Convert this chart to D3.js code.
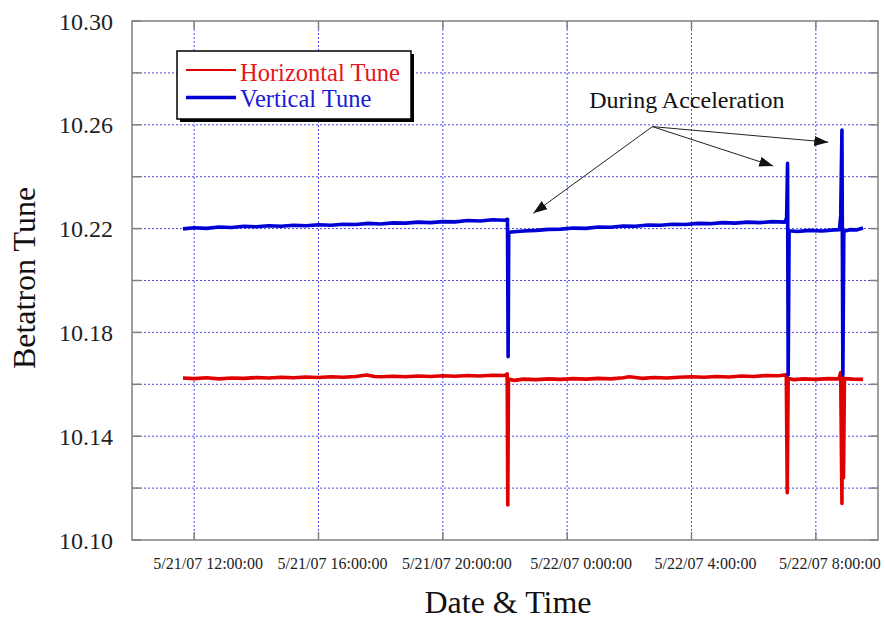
<!DOCTYPE html>
<html lang="en">
<head>
<meta charset="UTF-8">
<title>Betatron Tune</title>
<style>
    body { margin: 0; background: #fff; }
    svg text { font-family: 'Liberation Serif', 'Times New Roman', Times, serif; }
    .grid line { stroke: #4a4aee; stroke-width: 1; stroke-dasharray: 2,2; }
    .tick-mark { stroke: #808080; stroke-width: 1.5; }
</style>
</head>
<body>
<svg id="chart" width="885" height="621"></svg>
<script src="https://d3js.org/d3.v7.min.js"></script>
<script>
// hours counted from 5/21/07 0:00:00
const xDomainHours = [10, 34];
const yDomain = [10.10, 10.30];
const yGridValues = [10.10, 10.12, 10.14, 10.16, 10.18, 10.20, 10.22, 10.24, 10.26, 10.28, 10.30];
const yTickLabels = ["10.10", "10.14", "10.18", "10.22", "10.26", "10.30"];
const xTickHours = [12, 16, 20, 24, 28, 32];

// Horizontal tune
const hTimes = [11.64, 12.0, 12.4, 12.8, 13.2, 13.6, 14.0, 14.4, 14.8, 15.2, 15.6, 16.0, 16.4, 16.8, 17.2,
    17.55, 17.8, 18.0, 18.4, 18.8, 19.2, 19.6, 20.0, 20.4, 20.8, 21.2, 21.6, 22.0, 22.07,
    22.09, 22.11, 22.3, 22.6, 23.0, 23.4, 23.8, 24.2, 24.6, 25.0, 25.4, 25.8, 26.0, 26.4,
    26.8, 27.2, 27.6, 28.0, 28.4, 28.8, 29.2, 29.6, 30.0, 30.4, 30.8, 31.05,
    31.08, 31.11, 31.3, 31.6, 32.0, 32.4, 32.74, 32.8, 32.84, 32.86, 32.89, 32.92, 33.2, 33.52];
const hValues = [10.1624, 10.1622, 10.1625, 10.1621, 10.1624, 10.1623, 10.1626, 10.1624, 10.1627, 10.1625, 10.1628, 10.1626, 10.1629, 10.1627, 10.1630,
    10.1636, 10.1630, 10.1629, 10.1631, 10.1629, 10.1632, 10.1630, 10.1633, 10.1631, 10.1634, 10.1632, 10.1635, 10.1634, 10.1640,
    10.1135, 10.1620, 10.1615, 10.1620, 10.1618, 10.1621, 10.1619, 10.1622, 10.1620, 10.1623, 10.1621, 10.1625, 10.1629, 10.1623,
    10.1626, 10.1624, 10.1627, 10.1629, 10.1627, 10.1630, 10.1628, 10.1632, 10.1630, 10.1634, 10.1633, 10.1637,
    10.1182, 10.1622, 10.1618, 10.1621, 10.1619, 10.1622, 10.1621, 10.1645, 10.1141, 10.1630, 10.1240, 10.1622, 10.1620, 10.1619];

// Vertical tune
const vTimes = [11.64, 12.0, 12.4, 12.8, 13.2, 13.6, 14.0, 14.4, 14.8, 15.2, 15.6, 16.0, 16.4, 16.8, 17.2,
    17.6, 18.0, 18.4, 18.8, 19.2, 19.6, 20.0, 20.4, 20.8, 21.2, 21.6, 22.0, 22.08,
    22.10, 22.12, 22.2, 22.6, 23.0, 23.4, 23.8, 24.2, 24.6, 25.0, 25.4, 25.8, 26.2, 26.6,
    27.0, 27.4, 27.8, 28.2, 28.6, 29.0, 29.4, 29.8, 30.2, 30.6, 31.0, 31.06,
    31.09, 31.11, 31.14, 31.4, 31.8, 32.2, 32.6, 32.76, 32.8, 32.84, 32.87, 32.9, 33.1, 33.3, 33.52];
const vValues = [10.2199, 10.2203, 10.2201, 10.2206, 10.2204, 10.2209, 10.2207, 10.2211, 10.2209, 10.2213, 10.2211, 10.2215, 10.2213, 10.2217, 10.2216,
    10.2220, 10.2218, 10.2222, 10.2221, 10.2225, 10.2223, 10.2227, 10.2226, 10.2231, 10.2229, 10.2234, 10.2232, 10.2236,
    10.1706, 10.2184, 10.2187, 10.2191, 10.2193, 10.2197, 10.2198, 10.2202, 10.2201, 10.2206, 10.2205, 10.2210, 10.2209, 10.2214,
    10.2213, 10.2217, 10.2216, 10.2220, 10.2219, 10.2223, 10.2221, 10.2225, 10.2223, 10.2227, 10.2225, 10.2240,
    10.2452, 10.1636, 10.2192, 10.2189, 10.2193, 10.2191, 10.2195, 10.2196, 10.2250, 10.2580, 10.1636, 10.2190, 10.2196, 10.2195, 10.2202];

// annotation
const noteText = "During Acceleration";
const notePos = [27.85, 10.2665];
const arrowFrom = [26.74, 10.2593];
const arrowTips = [[22.91, 10.2259], [30.63, 10.2441], [32.40, 10.2533]];

const seriesNames = ["Horizontal Tune", "Vertical Tune"];
const seriesColors = ["#e00000", "#0000d4"];
const legendTextColors = ["#e8141a", "#1a1ad8"];

const width = 885, height = 621;
const margin = { top: 21, right: 7, bottom: 81, left: 132 };
const w = width - margin.left - margin.right;
const h = height - margin.top - margin.bottom;

const START = new Date(2007, 4, 21, 0, 0, 0);
const at = hr => new Date(+START + hr * 3600e3);

const x = d3.scaleTime().domain(xDomainHours.map(at)).range([0, w]);
const y = d3.scaleLinear().domain(yDomain).range([h, 0]);

const svg = d3.select("#chart");
const g = svg.append("g").attr("transform", `translate(${margin.left},${margin.top})`);

// grid
const grid = g.append("g").attr("class", "grid");
grid.selectAll(".hg").data(yGridValues.slice(1, -1)).enter().append("line")
    .attr("x1", 0).attr("x2", w)
    .attr("y1", d => y(d)).attr("y2", d => y(d));
grid.selectAll(".vg").data(xTickHours).enter().append("line")
    .attr("x1", d => x(at(d))).attr("x2", d => x(at(d)))
    .attr("y1", 0).attr("y2", h);

// inward tick marks on all four sides
const ticks = g.append("g");
yGridValues.forEach(v => {
    ticks.append("line").attr("class", "tick-mark").attr("x1", 0).attr("x2", 9).attr("y1", y(v)).attr("y2", y(v));
    ticks.append("line").attr("class", "tick-mark").attr("x1", w - 8).attr("x2", w).attr("y1", y(v)).attr("y2", y(v));
});
xTickHours.forEach(hr => {
    const xp = x(at(hr));
    ticks.append("line").attr("class", "tick-mark").attr("x1", xp).attr("x2", xp).attr("y1", 0).attr("y2", 8);
    ticks.append("line").attr("class", "tick-mark").attr("x1", xp).attr("x2", xp).attr("y1", h - 8).attr("y2", h);
});

// frame
g.append("rect").attr("width", w).attr("height", h)
    .attr("fill", "none").attr("stroke", "#808080").attr("stroke-width", 1.5);

// y labels
g.selectAll(".ylab").data(yTickLabels).enter().append("text")
    .attr("x", -19).attr("y", d => y(+d)).attr("dy", "0.36em")
    .attr("text-anchor", "end").attr("font-size", 24).attr("fill", "#222")
    .text(d => d);

// x labels
const fmt = d3.timeFormat("%-m/%-d/%y %-H:%M:%S");
g.selectAll(".xlab").data(xTickHours).enter().append("text")
    .attr("x", d => x(at(d)) + 14).attr("y", h + 29)
    .attr("text-anchor", "middle").attr("font-size", 16).attr("fill", "#222")
    .text(d => fmt(at(d)));

// axis titles
svg.append("text").attr("transform", "translate(35,278) rotate(-90)")
    .attr("text-anchor", "middle").attr("font-size", 32).attr("fill", "#111")
    .text("Betatron Tune");
svg.append("text").attr("x", 508).attr("y", 613)
    .attr("text-anchor", "middle").attr("font-size", 32).attr("fill", "#111")
    .text("Date & Time");

// data lines
g.append("clipPath").attr("id", "clip").append("rect").attr("width", w).attr("height", h);
const line = d3.line().x(d => x(at(d[0]))).y(d => y(d[1]));
const series = [
    d3.zip(hTimes, hValues),
    d3.zip(vTimes, vValues)
];
series.forEach((s, i) => {
    g.append("path").datum(s)
        .attr("clip-path", "url(#clip)")
        .attr("fill", "none")
        .attr("stroke", seriesColors[i])
        .attr("stroke-width", 3.6)
        .attr("stroke-linejoin", "round")
        .attr("d", line);
});

// annotation
svg.append("defs").append("marker")
    .attr("id", "arrow").attr("markerUnits", "userSpaceOnUse")
    .attr("markerWidth", 14).attr("markerHeight", 10)
    .attr("refX", 14).attr("refY", 5).attr("orient", "auto")
    .append("path").attr("d", "M0,0L14,5L0,10Z").attr("fill", "#111");

g.append("text").attr("x", x(at(notePos[0]))).attr("y", y(notePos[1]))
    .attr("text-anchor", "middle").attr("font-size", 24).attr("fill", "#111")
    .text(noteText);
arrowTips.forEach(t => {
    g.append("line")
        .attr("x1", x(at(arrowFrom[0]))).attr("y1", y(arrowFrom[1]))
        .attr("x2", x(at(t[0]))).attr("y2", y(t[1]))
        .attr("stroke", "#222").attr("stroke-width", 1)
        .attr("marker-end", "url(#arrow)");
});

// legend
const leg = svg.append("g").attr("transform", "translate(177,51)");
leg.append("rect").attr("x", 3).attr("y", 3).attr("width", 234).attr("height", 68).attr("fill", "#000");
leg.append("rect").attr("width", 234).attr("height", 68)
    .attr("fill", "#fff").attr("stroke", "#000").attr("stroke-width", 1.5);
seriesNames.forEach((name, i) => {
    leg.append("line").attr("x1", 9).attr("x2", 59)
        .attr("y1", 19 + i * 27.5).attr("y2", 19 + i * 27.5)
        .attr("stroke", seriesColors[i]).attr("stroke-width", i === 0 ? 2 : 3.5);
    leg.append("text").attr("x", 63).attr("y", 30 + i * 26)
        .attr("font-size", 24.5).attr("fill", legendTextColors[i])
        .text(name);
});
</script>
</body>
</html>
